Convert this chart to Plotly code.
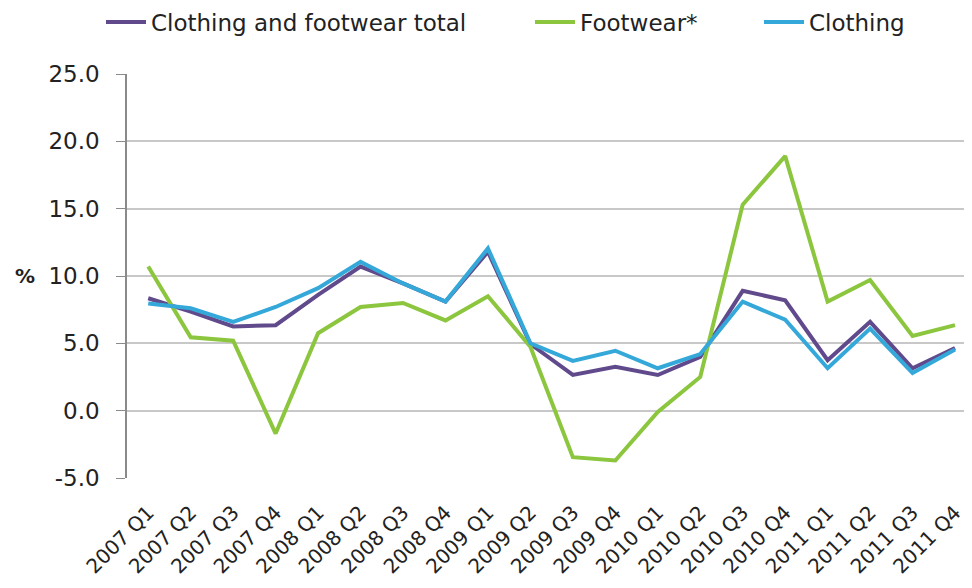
import plotly.graph_objects as go

quarters = ["2007 Q1", "2007 Q2", "2007 Q3", "2007 Q4",
            "2008 Q1", "2008 Q2", "2008 Q3", "2008 Q4",
            "2009 Q1", "2009 Q2", "2009 Q3", "2009 Q4",
            "2010 Q1", "2010 Q2", "2010 Q3", "2010 Q4",
            "2011 Q1", "2011 Q2", "2011 Q3", "2011 Q4"]

total = [8.35, 7.35, 6.25, 6.35, 8.6, 10.7, 9.45, 8.1, 11.8, 4.95,
         2.65, 3.25, 2.65, 4.0, 8.9, 8.2, 3.75, 6.6, 3.15, 4.65]
footwear = [10.7, 5.45, 5.2, -1.7, 5.75, 7.7, 8.0, 6.7, 8.5, 4.75,
            -3.45, -3.7, -0.1, 2.5, 15.3, 18.9, 8.1, 9.7, 5.55, 6.35]
clothing = [7.95, 7.6, 6.6, 7.7, 9.1, 11.05, 9.45, 8.1, 12.05, 5.0,
            3.7, 4.45, 3.15, 4.2, 8.1, 6.75, 3.15, 6.1, 2.8, 4.55]

y_ticks = [-5, 0, 5, 10, 15, 20, 25]
y_tick_text = ["-5.0", "0.0", "5.0", "10.0", "15.0", "20.0", "25.0"]

FONT = "DejaVu Sans"
TEXT = "#222222"

fig = go.Figure()
fig.add_trace(go.Scatter(x=quarters, y=total, mode="lines",
                         name="Clothing and footwear total", legend="legend",
                         line=dict(color="#604A8B", width=4)))
fig.add_trace(go.Scatter(x=quarters, y=footwear, mode="lines",
                         name="Footwear*", legend="legend2",
                         line=dict(color="#8CC63E", width=4)))
fig.add_trace(go.Scatter(x=quarters, y=clothing, mode="lines",
                         name="Clothing", legend="legend3",
                         line=dict(color="#35A8DA", width=4)))

xrange = [-0.5, 19.4]
boundaries = [i - 0.5 for i in range(len(quarters) + 1)]


def leg(x):
    return dict(orientation="h", xref="container", yref="container",
                x=x, y=1 - 14 / 588, xanchor="left", yanchor="middle",
                font=dict(size=23, family=FONT, color=TEXT), itemwidth=40,
                bgcolor="rgba(0,0,0,0)")


fig.update_layout(
    width=972, height=588,
    margin=dict(l=119, r=8, t=66, b=118),
    paper_bgcolor="white", plot_bgcolor="white",
    font=dict(family=FONT, size=20, color=TEXT),
    showlegend=True,
    legend=leg(93 / 972),
    legend2=leg(522 / 972),
    legend3=leg(751 / 972),
    xaxis=dict(type="category", categoryorder="array", categoryarray=quarters,
               range=xrange, tickangle=-45, showgrid=False, showline=False,
               ticks="outside", ticklen=14, tickcolor="rgba(0,0,0,0)",
               zeroline=False, automargin=False,
               tickfont=dict(size=20, family=FONT, color=TEXT)),
    xaxis2=dict(overlaying="x", anchor="free", position=5 / 30,
                range=xrange, type="linear", showline=True, linecolor="#8A8A8A",
                linewidth=1.5, ticks="outside", ticklen=7, tickcolor="#8A8A8A",
                tickvals=boundaries, showticklabels=False, showgrid=False,
                zeroline=False, automargin=False),
    yaxis=dict(range=[-5, 25], tickvals=y_ticks, ticktext=y_tick_text,
               showgrid=True, gridcolor="#C8C8C8", gridwidth=1.5,
               showline=True, linecolor="#8A8A8A", linewidth=1.5,
               ticks="outside", ticklen=9, tickcolor="#8A8A8A",
               ticklabelstandoff=12,
               zeroline=False, automargin=False,
               tickfont=dict(size=23, family=FONT, color=TEXT)),
    annotations=[dict(text="<b>%</b>", xref="paper", yref="paper",
                      x=-0.1207, y=0.5, xanchor="center", yanchor="middle",
                      showarrow=False,
                      font=dict(size=20, family=FONT, color=TEXT))],
)

fig.write_html("out.html")
